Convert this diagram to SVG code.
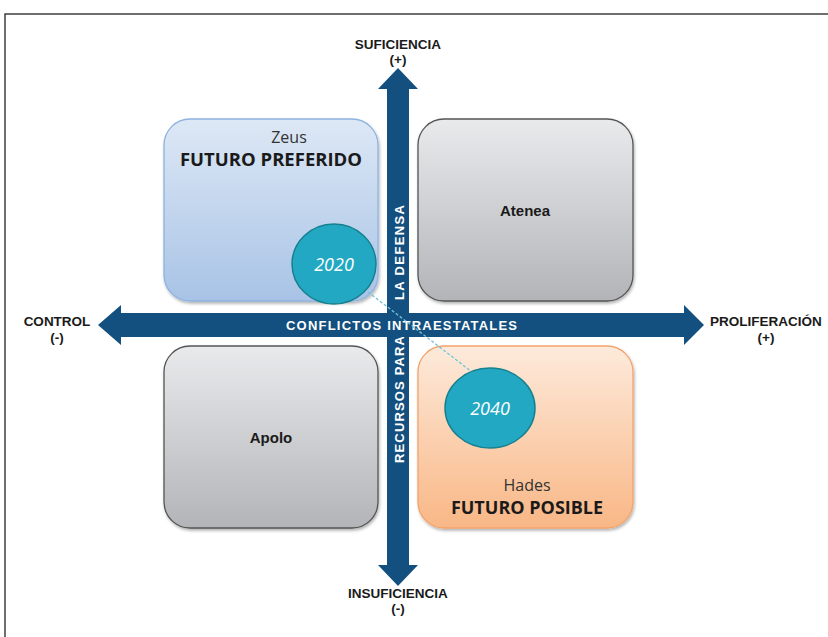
<svg xmlns="http://www.w3.org/2000/svg" width="828" height="637" viewBox="0 0 828 637">
<defs>
<linearGradient id="gBlue" x1="0" y1="0" x2="0" y2="1"><stop offset="0" stop-color="#dde8f5"/><stop offset="1" stop-color="#a8c3e6"/></linearGradient>
<linearGradient id="gGray" x1="0" y1="0" x2="0" y2="1"><stop offset="0" stop-color="#e8eaec"/><stop offset="1" stop-color="#b2b4b7"/></linearGradient>
<linearGradient id="gOrange" x1="0" y1="0" x2="0" y2="1"><stop offset="0" stop-color="#fdeadb"/><stop offset="1" stop-color="#f9b786"/></linearGradient>
<filter id="sh" x="-10%" y="-10%" width="120%" height="120%"><feDropShadow dx="1" dy="2" stdDeviation="1.5" flood-color="#000" flood-opacity="0.3"/></filter>
</defs>
<style>
.box{stroke-width:1.3}
.lbl{font-family:"Liberation Sans",Arial,sans-serif;font-weight:bold;font-size:13.5px;fill:#1a1a1a;text-anchor:middle}
.nm{font-family:"Liberation Sans",Arial,sans-serif;font-weight:bold;font-size:15px;fill:#1a1a1a;text-anchor:middle}
.cal{font-family:"Open Sans","Liberation Sans",sans-serif;text-anchor:middle;fill:#1a1a1a}
.band{font-family:"Liberation Sans",Arial,sans-serif;font-weight:bold;font-size:13px;fill:#fff}
.yr{font-family:"Open Sans","Liberation Sans",sans-serif;font-style:italic;font-size:18px;fill:#fff;text-anchor:middle}
.circ{fill:#22a8c2;stroke:#17808f;stroke-width:1.5}
</style>
<rect x="5" y="14" width="840" height="640" fill="#fff" stroke="#222" stroke-width="1.3"/>
<g id="zeus"><rect class="box" x="164" y="119" width="214" height="182" rx="26" fill="url(#gBlue)" stroke="#8db3e0" filter="url(#sh)"/>
<text class="cal" x="289" y="143" style="font-size:16px;fill:#333">Zeus</text>
<text class="cal" x="271" y="166" style="font-size:18.5px;font-weight:bold">FUTURO PREFERIDO</text></g>
<g id="atenea"><rect class="box" x="418" y="119" width="215" height="182" rx="26" fill="url(#gGray)" stroke="#555" filter="url(#sh)"/>
<text class="nm" x="525" y="216">Atenea</text></g>
<g id="apolo"><rect class="box" x="164" y="346" width="214" height="182" rx="26" fill="url(#gGray)" stroke="#555" filter="url(#sh)"/>
<text class="nm" x="271" y="443">Apolo</text></g>
<g id="hades"><rect class="box" x="418" y="346" width="215" height="182" rx="26" fill="url(#gOrange)" stroke="#f3a46c" filter="url(#sh)"/>
<text class="cal" x="527" y="491" style="font-size:16px;fill:#333">Hades</text>
<text class="cal" x="527" y="514" style="font-size:18px;font-weight:bold">FUTURO POSIBLE</text></g>
<g id="connectors">
<path d="M398 68 L418 89 L409 89 L409 565 L418 565 L398 586 L378 565 L387 565 L387 89 L378 89 Z" fill="#14507f"/>
<text class="band" transform="translate(403.5 463) rotate(-90)" x="0" y="0" textLength="127" lengthAdjust="spacing">RECURSOS PARA</text>
<text class="band" transform="translate(403.5 300) rotate(-90)" x="0" y="0" textLength="95" lengthAdjust="spacing">LA DEFENSA</text>
<path d="M98 325 L121 305 L121 313 L684 313 L684 305 L704 325 L684 345 L684 337 L121 337 L121 345 Z" fill="#14507f"/>
<text class="band" x="286" y="330" textLength="231" lengthAdjust="spacing">CONFLICTOS INTRAESTATALES</text>
<line x1="368" y1="292" x2="472" y2="372" stroke="#6fc3d8" stroke-width="1.3" stroke-dasharray="3 2"/>
</g>
<g id="c2020"><ellipse class="circ" cx="334" cy="264" rx="42" ry="40"/><text class="yr" x="334" y="271">2020</text></g>
<g id="c2040"><ellipse class="circ" cx="490" cy="408" rx="45" ry="40"/><text class="yr" x="490" y="415">2040</text></g>
<g id="labels">
<text class="lbl" x="398" y="49">SUFICIENCIA</text><text class="lbl" x="398" y="64">(+)</text>
<text class="lbl" x="398" y="598">INSUFICIENCIA</text><text class="lbl" x="398" y="613">(-)</text>
<text class="lbl" x="57" y="326">CONTROL</text><text class="lbl" x="57" y="342">(-)</text>
<text class="lbl" x="766" y="326">PROLIFERACIÓN</text><text class="lbl" x="766" y="342">(+)</text>
</g>
</svg>
